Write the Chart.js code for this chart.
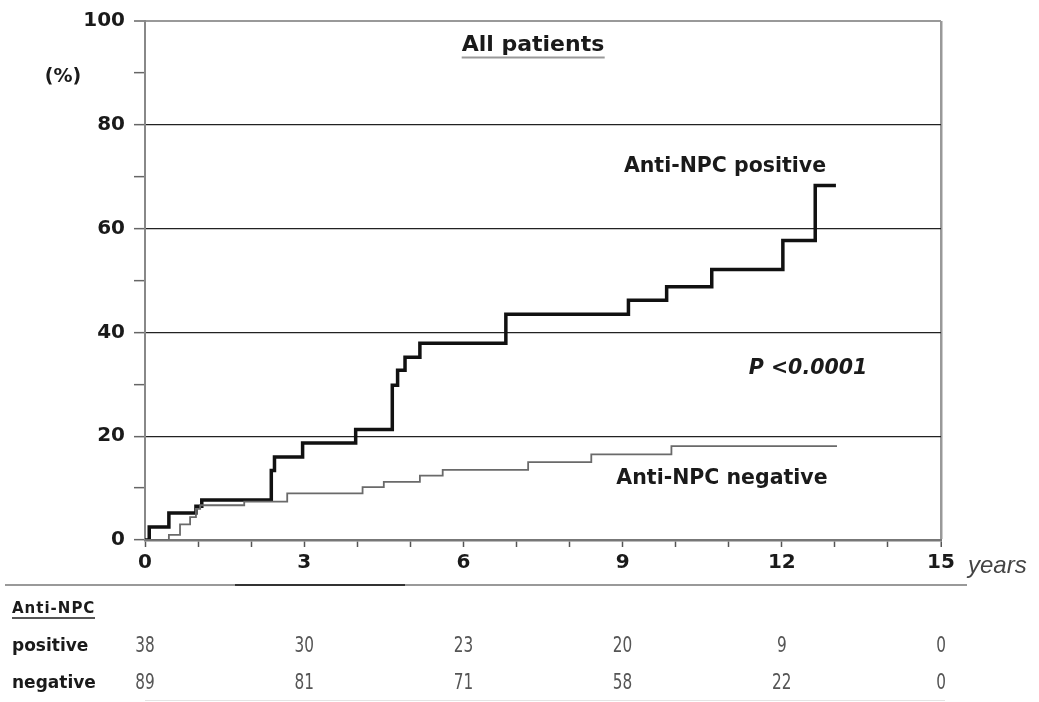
<!DOCTYPE html>
<html>
<head>
<meta charset="utf-8">
<script src="https://cdn.jsdelivr.net/npm/chart.js@4/dist/chart.umd.min.js"></script>
<style>
  html, body { margin: 0; padding: 0; background: #fff; }
  #wrap { position: relative; width: 1039px; height: 702px; overflow: hidden; }
  #chart { position: absolute; left: 0; top: 0; }
  .t { position: absolute; white-space: nowrap; font-family: "DejaVu Sans", sans-serif; font-weight: bold; color: #1a1a1a; transform: translate(-50%, -50%); }
  .lbl { position: absolute; white-space: nowrap; font-family: "DejaVu Sans", sans-serif; font-weight: bold; color: #1a1a1a; transform: translateY(-50%); }
  .num { position: absolute; white-space: nowrap; font-family: "DejaVu Sans Condensed", "DejaVu Sans", sans-serif; font-weight: 200; color: #555; font-size: 17px; transform: translate(-50%, -50%) scaleY(1.2); }
</style>
</head>
<body>
<div id="wrap">
  <canvas id="chart" width="1039" height="702"></canvas>
  <div class="t" style="left:533px;top:43px;font-size:22px;"><span style="border-bottom:2.5px solid #999;padding-bottom:1px;">All patients</span></div>
  <div class="t" style="left:63px;top:75px;font-size:19px;">(%)</div>
  <div class="t" style="left:725px;top:165px;font-size:20.5px;">Anti-NPC positive</div>
  <div class="t" style="left:808px;top:367px;font-size:20.5px;font-style:italic;">P &lt;0.0001</div>
  <div class="t" style="left:722px;top:477px;font-size:20.5px;">Anti-NPC negative</div>
  <div class="lbl" style="left:968px;top:565px;font-family:'Liberation Sans',sans-serif;font-weight:normal;font-style:italic;font-size:24px;color:#444;">years</div>
  <div style="position:absolute;left:5px;top:584px;width:962px;height:2px;background:linear-gradient(to right,#999 0,#999 230px,#333 230px,#333 400px,#999 400px,#999 100%);"></div>
  <div class="lbl" style="left:12px;top:608px;font-size:15px;letter-spacing:1px;"><span style="border-bottom:2px solid #555;">Anti-NPC</span></div>
  <div class="lbl" style="left:12px;top:645px;font-size:17px;">positive</div>
  <div class="lbl" style="left:12px;top:682px;font-size:17px;">negative</div>
  <div style="position:absolute;left:145px;top:700px;width:800px;height:1px;background:#e4e4e4;"></div>
  <div id="table"></div>
</div>
<script>
// ---- data ----
const posTimes  = [0, 0.08, 0.45, 0.96, 1.07, 2.38, 2.44, 2.97, 3.97, 4.66, 4.76, 4.90, 5.18, 6.80, 9.11, 9.83, 10.68, 12.02, 12.63, 13.02];
const posValues = [0, 2.5, 5.2, 6.5, 7.7, 13.4, 16.0, 18.7, 21.3, 29.8, 32.7, 35.2, 37.9, 43.5, 46.2, 48.8, 52.1, 57.7, 68.3, 68.3];
const negTimes  = [0, 0.45, 0.66, 0.85, 0.96, 1.04, 1.87, 2.68, 4.10, 4.50, 5.18, 5.61, 7.22, 8.41, 9.92, 13.04];
const negValues = [0, 1.0, 3.0, 4.4, 6.0, 6.7, 7.4, 9.0, 10.2, 11.2, 12.4, 13.5, 15.0, 16.5, 18.1, 18.1];
const riskTimes    = [0, 3, 6, 9, 12, 15];
const riskPositive = [38, 30, 23, 20, 9, 0];
const riskNegative = [89, 81, 71, 58, 22, 0];
const xTickLabels  = [0, 3, 6, 9, 12, 15];
const yTickLabels  = [0, 20, 40, 60, 80, 100];

const toPts = (ts, vs) => ts.map((t, i) => ({ x: t, y: vs[i] }));

const tablePlugin = {
  id: 'riskTable',
  afterRender(chart) {
    const host = document.getElementById('table');
    host.innerHTML = '';
    const xs = chart.scales.x;
    riskTimes.forEach((t, i) => {
      const px = xs.getPixelForValue(t);
      [[riskPositive[i], 645], [riskNegative[i], 682]].forEach(([v, y]) => {
        const d = document.createElement('div');
        d.className = 'num';
        d.style.left = px + 'px';
        d.style.top = y + 'px';
        d.textContent = v;
        host.appendChild(d);
      });
    });
  }
};

new Chart(document.getElementById('chart'), {
  type: 'line',
  data: {
    datasets: [
      { label: 'Anti-NPC negative', data: toPts(negTimes, negValues), stepped: true,
        borderColor: '#6a6a6a', borderWidth: 1.8, pointRadius: 0, fill: false },
      { label: 'Anti-NPC positive', data: toPts(posTimes, posValues), stepped: true,
        borderColor: '#111', borderWidth: 3.5, pointRadius: 0, fill: false }
    ]
  },
  options: {
    responsive: false,
    animation: false,
    layout: { padding: { left: 0, top: 19, right: 98, bottom: 122 } },
    plugins: { legend: { display: false }, tooltip: { enabled: false } },
    scales: {
      x: {
        type: 'linear', min: 0, max: 15,
        afterFit(s) { s.height = 40; },
        border: { display: true, color: '#777', width: 2.5 },
        grid: {
          drawOnChartArea: true, drawTicks: true, tickLength: 7,
          color: ctx => (ctx.tick && ctx.tick.value === 15) ? '#999' : 'rgba(0,0,0,0)',
          lineWidth: ctx => (ctx.tick && ctx.tick.value === 15) ? 2.5 : 1,
          tickColor: '#555', tickWidth: 1.5
        },
        ticks: {
          stepSize: 1, autoSkip: false, maxRotation: 0, padding: 4,
          color: '#1a1a1a',
          font: { family: 'DejaVu Sans', weight: 'bold', size: 20 },
          callback: v => xTickLabels.includes(v) ? String(v) : ''
        }
      },
      y: {
        min: 0, max: 100,
        afterFit(s) { s.width = 145; },
        border: { display: true, color: '#888', width: 2 },
        grid: {
          drawTicks: true, tickLength: 11,
          color: ctx => {
            const v = ctx.tick ? ctx.tick.value : -1;
            if (v === 100) return '#999';
            if (v === 20 || v === 40 || v === 60 || v === 80) return '#222';
            return 'rgba(0,0,0,0)';
          },
          lineWidth: ctx => (ctx.tick && ctx.tick.value === 100) ? 2 : 1.3,
          tickColor: '#666', tickWidth: 1.5
        },
        ticks: {
          stepSize: 10, autoSkip: false, padding: 9,
          color: '#1a1a1a',
          font: { family: 'DejaVu Sans', weight: 'bold', size: 20 },
          callback: v => yTickLabels.includes(v) ? String(v) : ''
        }
      }
    }
  },
  plugins: [tablePlugin]
});
</script>
</body>
</html>
